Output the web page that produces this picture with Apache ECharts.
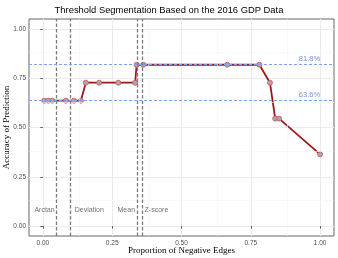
<!DOCTYPE html>
<html>
<head>
<meta charset="utf-8">
<script src="https://cdn.jsdelivr.net/npm/echarts@6/dist/echarts.min.js"></script>
<style>html,body{margin:0;padding:0;background:#fff}#c{width:338px;height:258px}</style>
</head>
<body>
<div id="c"></div>
<script>
const xValues = [0.005, 0.019, 0.034, 0.083, 0.112, 0.137, 0.155, 0.203, 0.272, 0.333, 0.338, 0.362, 0.665, 0.781, 0.819, 0.838, 0.852, 1.0];
const yValues = [0.636, 0.636, 0.636, 0.636, 0.636, 0.636, 0.727, 0.727, 0.727, 0.727, 0.818, 0.818, 0.818, 0.818, 0.727, 0.545, 0.545, 0.364];
const thresholdNames = ['Arctan', 'Deviation', 'Mean', 'Z-score'];
const thresholdX = [0.046, 0.104, 0.336, 0.356];
const thresholdSide = ['left', 'right', 'left', 'right'];
const refLevels = [0.818, 0.636];
const refLabels = ['81.8%', '63.6%'];
const xTicks = [0, 0.25, 0.5, 0.75, 1.0];
const yTicks = [0, 0.25, 0.5, 0.75, 1.0];
const minorTicks = [0.125, 0.375, 0.625, 0.875];

const chart = echarts.init(document.getElementById('c'), null, {renderer: 'canvas'});
const tickFmt = v => v.toFixed(2);
const axisCommon = {
  type: 'value', min: -0.05, max: 1.05,
  axisLine: {show: false},
  axisTick: {show: true, customValues: xTicks, length: 2.5, lineStyle: {color: '#333', width: 0.8}},
  splitLine: {show: true, lineStyle: {color: '#ebebeb', width: 1}},
  nameMoveOverlap: false,
};
const minorLines = [];
minorTicks.forEach(v => { minorLines.push({xAxis: v}); minorLines.push({yAxis: v}); });

chart.setOption({
  animation: false,
  title: {
    text: 'Threshold Segmentation Based on the 2016 GDP Data',
    left: 'center', top: 1,
    textStyle: {fontFamily: 'Liberation Sans, Arial, sans-serif', fontSize: 9.4, fontWeight: 'normal', color: '#000'}
  },
  grid: {left: 29, right: 4, top: 19, bottom: 22, containLabel: false, outerBoundsMode: 'none',
    show: true, borderColor: '#666', borderWidth: 1, backgroundColor: 'transparent'},
  xAxis: Object.assign({}, axisCommon, {
    axisTick: Object.assign({}, axisCommon.axisTick, {customValues: xTicks}),
    axisLabel: {customValues: xTicks, formatter: tickFmt, fontSize: 6.5, color: '#4d4d4d', margin: 4, fontFamily: 'Liberation Sans, Arial, sans-serif'},
    name: 'Proportion of Negative Edges', nameLocation: 'middle', nameGap: 10.5,
    nameTextStyle: {fontFamily: 'Liberation Serif, Times New Roman, serif', fontSize: 9, color: '#000'}
  }),
  yAxis: Object.assign({}, axisCommon, {
    axisTick: Object.assign({}, axisCommon.axisTick, {customValues: yTicks}),
    axisLabel: {customValues: yTicks, formatter: tickFmt, fontSize: 6.5, color: '#4d4d4d', margin: 3, fontFamily: 'Liberation Sans, Arial, sans-serif'},
    name: 'Accuracy of Prediction', nameLocation: 'middle', nameGap: 17.5,
    nameTextStyle: {fontFamily: 'Liberation Serif, Times New Roman, serif', fontSize: 9, color: '#000'}
  }),
  series: [
    {
      type: 'line', data: [], silent: true, z: 0,
      markLine: {silent: true, symbol: 'none', label: {show: false},
        lineStyle: {color: '#f3f3f3', width: 0.6, type: 'solid'}, data: minorLines}
    },
    {
      type: 'line', z: 3,
      data: xValues.map((x, i) => [x, yValues[i]]),
      lineStyle: {color: '#a31616', width: 1.8},
      symbol: 'circle', symbolSize: 5,
      itemStyle: {color: '#a3a8b2', borderColor: '#cf5c5c', borderWidth: 0.9},
    },
    {
      type: 'line', data: [], silent: true, z: 4,
      markLine: {silent: true, symbol: 'none', label: {show: false}, animation: false,
        data: thresholdX.map(v => ({xAxis: v, lineStyle: {color: '#7a7a7a', width: 1.3, type: [3.5, 2]}}))
          .concat(refLevels.map(v => ({yAxis: v, lineStyle: {color: '#7aa3ff', width: 1, type: [3, 2]}})))
      }
    },
    {
      type: 'scatter', symbolSize: 0, silent: true, z: 5,
      data: thresholdNames.map((n, i) => ({
        value: [thresholdX[i], 0.081], name: n,
        label: {show: true, formatter: n, position: thresholdSide[i], distance: thresholdSide[i] === 'left' ? 1 : 3,
          fontSize: 7, color: '#4d4d4d', fontFamily: 'Liberation Sans, Arial, sans-serif'}
      })).concat(refLevels.map((v, i) => ({
        value: [1.0, v], name: refLabels[i],
        label: {show: true, formatter: refLabels[i], position: 'top', align: 'right', distance: 1.5,
          fontSize: 7.5, color: '#5577cc', fontFamily: 'Liberation Sans, Arial, sans-serif'}
      })))
    }
  ]
});
</script>
</body>
</html>
